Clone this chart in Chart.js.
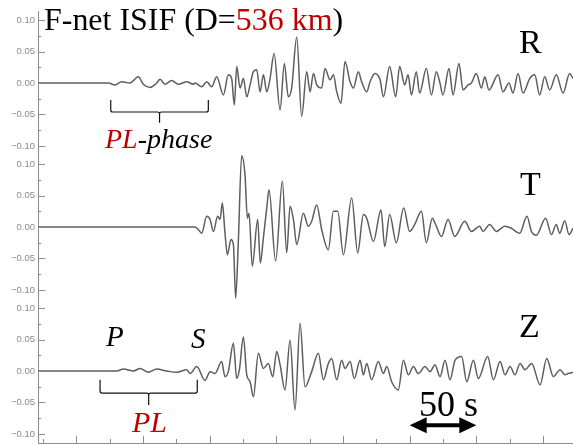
<!DOCTYPE html>
<html>
<head>
<meta charset="utf-8">
<script src="https://cdn.jsdelivr.net/npm/chart.js@4.4.1/dist/chart.umd.min.js"></script>
<style>
  html, body { margin: 0; padding: 0; background: #fff; }
  #wrap { position: relative; width: 573px; height: 445px; overflow: hidden; }
  .lbl { position: absolute; font-family: "Liberation Serif", "Times New Roman", serif; line-height: 1; white-space: nowrap; color: #000; }
  .red { color: #c00000; }
  .it { font-style: italic; }
</style>
</head>
<body>
<div id="wrap">
  <canvas id="seis" width="573" height="445"></canvas>
  <div class="lbl" style="left:44px; top:4px; font-size:31px; transform:scaleX(1.03); transform-origin:0 0;">F-net ISIF (D=<span class="red">536 km</span>)</div>
  <div class="lbl" style="left:519px; top:25px; font-size:34px;">R</div>
  <div class="lbl" style="left:520px; top:167px; font-size:34px;">T</div>
  <div class="lbl" style="left:519px; top:309px; font-size:34px;">Z</div>
  <div class="lbl it" style="left:105px; top:125px; font-size:28px;"><span class="red">PL</span>-phase</div>
  <div class="lbl it" style="left:106px; top:322px; font-size:29px;">P</div>
  <div class="lbl it" style="left:191px; top:324px; font-size:29px;">S</div>
  <div class="lbl it red" style="left:132px; top:407px; font-size:30px;">PL</div>
  <div class="lbl" style="left:419px; top:386px; font-size:36px;">50 s</div>
</div>
<script>
// ---------------------
// DATA (time in s, ground motion)
// ---------------------
const components = ['R', 'T', 'Z'];
const yTicks = [-0.10, -0.05, 0, 0.05, 0.10];

const rTime = [-3.8, 49.0, 54.0, 59.0, 65.3, 71.5, 75.2, 80.3, 85.3, 87.8, 91.5, 96.5, 101.5, 107.8, 112.7,
  114.0, 119.0, 122.8, 126.5, 130.3, 135.3, 139.0, 141.5, 143.5, 145.3, 147.8, 150.3, 152.8, 155.3, 157.8,
  160.3, 162.8, 165.3, 167.8, 170.3, 173.3, 177.8, 181.0, 184.0, 186.5, 190.3, 194.0, 197.8, 200.3, 202.8,
  205.3, 209.0, 211.5, 215.3, 217.8, 220.3, 223.5, 226.5, 230.3, 232.8, 236.5, 239.0, 242.8, 245.3, 249.0,
  252.8, 255.3, 260.0, 264.5, 267.5, 271.3, 273.8, 276.3, 280.0, 282.5, 287.5, 291.3, 295.0, 297.5, 300.0,
  304.5, 307.5, 312.0, 315.0, 318.8, 321.3, 325.0, 328.8, 331.3, 334.5, 341.3, 345.0, 349.5, 352.5, 356.3,
  360.0, 365.0, 368.8, 372.5, 376.3, 380.0, 385.0, 390.0, 395.0, 397.5];
const rAmp = [0, 0, -0.003, 0.002, 0.000, 0.010, -0.002, -0.007, 0.000, 0.006, -0.002, 0.004, -0.002, 0.002, -0.002,
  0.000, -0.006, 0.002, -0.006, 0.010, -0.019, 0.013, 0.007, -0.035, 0.026, -0.008, 0.007, -0.022, -0.003, 0.018,
  0.021, -0.014, 0.013, -0.014, 0.007, 0.047, -0.043, 0.031, -0.022, -0.008, 0.073, -0.053, 0.018, -0.014, 0.015,
  -0.003, -0.008, 0.023, 0.005, 0.013, -0.014, -0.032, 0.034, 0.002, -0.008, 0.018, 0.002, -0.014, 0.002, 0.015,
  0.005, -0.022, 0.026, -0.022, 0.026, -0.003, 0.013, -0.019, 0.018, -0.016, 0.023, -0.019, 0.018, 0.002, -0.019,
  0.023, -0.019, 0.031, -0.011, -0.003, 0.000, 0.015, -0.008, 0.010, -0.011, 0.013, -0.014, 0.000, -0.016, 0.015,
  -0.016, 0.007, 0.013, -0.019, 0.010, -0.011, 0.013, -0.016, 0.015, 0.007];

const tTime = [-3.8, 114.0, 116.5, 119.0, 122.8, 125.3, 127.8, 131.0, 132.8, 134.5, 136.5, 138.3, 141.0, 142.8, 144.5,
  146.5, 149.0, 151.5, 153.3, 154.5, 157.0, 161.0, 163.0, 165.3, 167.8, 169.5, 174.5, 179.5, 182.8, 185.3,
  187.8, 190.3, 195.3, 199.0, 201.5, 205.3, 209.0, 214.0, 217.8, 221.0, 225.3, 231.5, 236.0, 240.3, 242.8,
  247.8, 253.5, 256.3, 260.0, 265.0, 270.5, 275.0, 278.8, 283.8, 287.5, 292.0, 294.5, 298.8, 303.8, 308.8,
  316.3, 321.3, 327.5, 330.0, 335.0, 340.0, 346.3, 351.3, 357.5, 363.0, 366.3, 370.0, 377.0, 381.3, 385.0,
  387.5, 391.3, 394.5, 397.5];
const tAmp = [0, 0, -0.004, -0.010, 0.017, 0.012, -0.007, 0.017, 0.012, 0.038, -0.010, -0.044, -0.020, -0.028, -0.113,
  -0.023, 0.113, 0.083, 0.014, 0.022, -0.062, 0.012, -0.057, -0.017, 0.030, 0.059, -0.054, 0.073, -0.041, 0.033,
  0.012, -0.028, 0.022, 0.001, 0.009, 0.035, -0.004, -0.036, 0.025, 0.025, -0.044, 0.046, -0.041, 0.020, 0.014,
  -0.023, 0.027, -0.031, 0.020, -0.025, 0.030, -0.007, 0.004, 0.025, -0.025, 0.014, 0.004, -0.015, 0.012, -0.015,
  0.009, -0.007, 0.001, -0.007, 0.004, -0.007, 0.001, -0.002, -0.010, 0.017, -0.007, -0.013, 0.014, -0.012, 0.004,
  -0.010, 0.010, -0.012, -0.002];

const zTime = [-3.8, 55.3, 60.3, 67.8, 72.8, 79.0, 85.3, 92.8, 100.3, 107.8, 110.3, 115.3, 121.5, 125.3, 129.0,
  134.0, 136.5, 139.0, 142.8, 145.3, 147.3, 150.3, 152.8, 155.3, 157.8, 161.5, 165.3, 169.0, 172.3, 175.3,
  177.8, 181.5, 185.3, 189.0, 192.8, 196.5, 201.5, 206.5, 210.3, 214.0, 216.5, 220.3, 224.0, 226.5, 230.3,
  233.5, 237.8, 240.3, 242.8, 246.5, 251.5, 255.3, 257.8, 261.5, 266.5, 270.3, 274.0, 277.8, 281.5, 286.5,
  290.3, 294.0, 297.8, 301.5, 305.3, 309.0, 314.0, 317.8, 322.8, 326.5, 333.5, 337.8, 342.8, 346.5, 350.3,
  354.0, 357.8, 361.5, 366.5, 372.8, 377.8, 382.8, 387.8, 391.5, 393.8, 397.5];
const zAmp = [0, 0, 0.003, 0.000, 0.004, -0.002, 0.003, 0.000, -0.002, 0.002, -0.004, 0.007, -0.015, -0.001, -0.004,
  0.015, -0.009, -0.001, 0.044, -0.012, 0.002, 0.054, -0.006, -0.017, -0.041, 0.028, 0.004, 0.012, -0.009, 0.031,
  0.010, -0.030, 0.049, -0.062, 0.076, -0.025, -0.001, 0.028, -0.014, 0.012, 0.020, -0.014, 0.017, 0.004, 0.015,
  -0.012, 0.017, -0.006, 0.012, -0.014, 0.015, -0.004, 0.007, -0.017, -0.030, 0.017, -0.006, 0.007, -0.004, 0.007,
  -0.001, 0.010, -0.009, 0.017, -0.014, 0.017, 0.023, -0.017, 0.017, -0.012, 0.023, -0.014, 0.015, -0.006, 0.007,
  -0.006, 0.012, 0.002, 0.012, -0.022, 0.020, -0.009, 0.002, -0.006, -0.004, -0.002];

const traces = { R: [rTime, rAmp], T: [tTime, tAmp], Z: [zTime, zAmp] };

// ---------------------
// AXES
// ---------------------
const AXIS_GRAY = '#8c8c8c';
const fmt = v => (v < 0 ? '\u2212' : '') + Math.abs(v).toFixed(2);

function panelAxis() {
  return {
    type: 'linear',
    position: 'left',
    stack: 'traces',
    stackWeight: 1,
    min: -0.1143,
    max: 0.1143,
    afterBuildTicks: s => { s.ticks = yTicks.map(v => ({ value: v })); },
    afterFit: s => { s.width = 38; s.paddingTop = 0; s.paddingBottom = 0; },
    grid: { display: false, drawTicks: false },
    border: { display: true, color: AXIS_GRAY, width: 1 },
    ticks: {
      color: '#8a8a8a',
      padding: 3,
      font: { family: 'Arial, "Liberation Sans", sans-serif', size: 9.5 },
      callback: v => fmt(v)
    }
  };
}

// inward tick marks, brackets and the 50 s arrow
const decor = {
  id: 'decor',
  afterDraw(chart) {
    const ctx = chart.ctx;
    const area = chart.chartArea;
    const x = chart.scales.x;
    const seg = (x1, y1, x2, y2) => { ctx.beginPath(); ctx.moveTo(x1, y1); ctx.lineTo(x2, y2); ctx.stroke(); };
    ctx.save();
    ctx.strokeStyle = AXIS_GRAY;
    ctx.lineWidth = 1;
    for (let t = 0; t <= x.max; t += 25) {
      const px = Math.round(x.getPixelForValue(t)) + 0.5;
      seg(px, area.bottom, px, area.bottom - ((t / 25) % 2 ? 7 : 4));
    }
    components.forEach(c => {
      const s = chart.scales['y' + c];
      [-0.1, -0.075, -0.05, -0.025, 0, 0.025, 0.05, 0.075, 0.1].forEach((v, i) => {
        const py = Math.round(s.getPixelForValue(v)) + 0.5;
        seg(area.left, py, area.left + (i % 2 ? 3 : 7), py);
      });
    });

    ctx.strokeStyle = '#111';
    ctx.lineWidth = 1.2;
    const bracket = (s, t0, t1, vTop, vBar, vNub) => {
      const a = x.getPixelForValue(t0), b = x.getPixelForValue(t1), m = (a + b) / 2;
      const yt = s.getPixelForValue(vTop), yb = s.getPixelForValue(vBar), yn = s.getPixelForValue(vNub);
      ctx.beginPath();
      ctx.moveTo(a, yt); ctx.lineTo(a, yb - 2); ctx.quadraticCurveTo(a, yb, a + 2, yb);
      ctx.lineTo(m - 2, yb); ctx.quadraticCurveTo(m, yb, m, yb + 2); ctx.lineTo(m, yn);
      ctx.moveTo(m, yb + 2); ctx.quadraticCurveTo(m, yb, m + 2, yb);
      ctx.lineTo(b - 2, yb); ctx.quadraticCurveTo(b, yb, b, yb - 2); ctx.lineTo(b, yt);
      ctx.stroke();
    };
    bracket(chart.scales.yR, 50.8, 124, -0.027, -0.046, -0.063);
    bracket(chart.scales.yZ, 42.8, 115.7, -0.014, -0.035, -0.054);

    // 50 s double arrow
    const a0 = x.getPixelForValue(275), a1 = x.getPixelForValue(325);
    const ay = chart.scales.yZ.getPixelForValue(-0.086);
    ctx.fillStyle = '#000';
    ctx.strokeStyle = '#000';
    ctx.lineWidth = 4;
    seg(a0 + 10, ay, a1 - 10, ay);
    ctx.beginPath();
    ctx.moveTo(a0, ay); ctx.lineTo(a0 + 17, ay - 8); ctx.lineTo(a0 + 17, ay + 8); ctx.closePath(); ctx.fill();
    ctx.beginPath();
    ctx.moveTo(a1, ay); ctx.lineTo(a1 - 17, ay - 8); ctx.lineTo(a1 - 17, ay + 8); ctx.closePath(); ctx.fill();
    ctx.restore();
  }
};

// ---------------------
// CHART JS (seismograms)
// ---------------------
const datasets = components.map(c => ({
  label: c,
  yAxisID: 'y' + c,
  data: traces[c][0].map((t, i) => ({ x: t, y: traces[c][1][i] })),
  borderColor: '#5e5e5e',
  borderWidth: 1.5,
  pointRadius: 0,
  cubicInterpolationMode: 'monotone',
  fill: false
}));

new Chart(document.getElementById('seis'), {
  type: 'line',
  data: { datasets },
  options: {
    responsive: false,
    animation: false,
    layout: { padding: { top: 11, left: 0, right: 0, bottom: 0 } },
    plugins: { legend: { display: false }, tooltip: { enabled: false } },
    scales: {
      x: {
        type: 'linear',
        min: -3.75,
        max: 397.5,
        grid: { display: false },
        ticks: { display: false },
        border: { display: true, color: AXIS_GRAY, width: 1 },
        afterFit: s => { s.height = 2; }
      },
      yZ: panelAxis(),
      yT: panelAxis(),
      yR: panelAxis()
    }
  },
  plugins: [decor]
});
</script>
</body>
</html>
